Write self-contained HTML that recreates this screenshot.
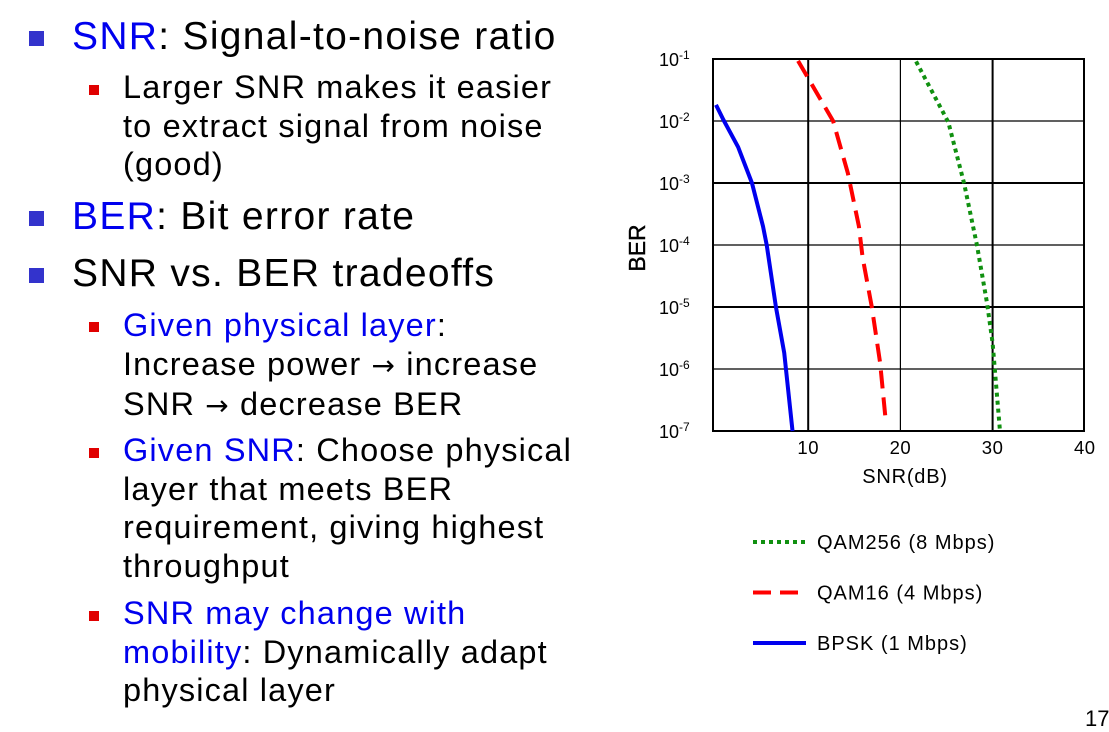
<!DOCTYPE html>
<html><head><meta charset="utf-8"><style>
body{margin:0;width:1109px;height:726px;background:#fff;overflow:hidden;position:relative;font-family:"Liberation Sans",sans-serif}
.l1{position:absolute;left:72px;font-size:39px;color:#000;white-space:nowrap;letter-spacing:1.3px}
.l2{position:absolute;left:123px;font-size:32.5px;color:#000;white-space:nowrap;line-height:38.5px;letter-spacing:1.15px}
.b1{position:absolute;left:29px;width:15px;height:15px;background:#3333cc}
.b2{position:absolute;left:89px;width:10px;height:10px;background:#e00000}
.bl{color:#0000ee}
.ar{font-family:"DejaVu Sans",sans-serif;font-size:28px}
</style></head><body>
<div>
<div class="b1" style="top:31px"></div><div class="l1" style="top:15px"><span class="bl">SNR</span>: Signal-to-noise ratio</div></div>
<div class="b2" style="top:85px"></div>
<div class="l2" style="top:68px">Larger SNR makes it easier<br>to extract signal from noise<br>(good)</div>
<div>
<div class="b1" style="top:211px"></div><div class="l1" style="top:195px"><span class="bl">BER</span>: Bit error rate</div></div>
<div>
<div class="b1" style="top:268px"></div><div class="l1" style="top:252px">SNR vs. BER tradeoffs</div></div>
<div class="b2" style="top:322px"></div>
<div class="l2" style="top:306px"><span class="bl">Given physical layer</span>:<br>Increase power <span class="ar">→</span> increase<br>SNR <span class="ar">→</span> decrease BER</div>
<div class="b2" style="top:448px"></div>
<div class="l2" style="top:431px"><span class="bl">Given SNR</span>: Choose physical<br>layer that meets BER<br>requirement, giving highest<br>throughput</div>
<div class="b2" style="top:611px"></div>
<div class="l2" style="top:594px"><span class="bl">SNR may change with<br>mobility</span>: Dynamically adapt<br>physical layer</div>
<div style="position:absolute;left:1085px;top:706px;font-size:22px">17</div>
<svg id="chart" width="1109" height="726" style="position:absolute;left:0;top:0" font-family="Liberation Sans,sans-serif"></svg>
<script>
const xTicks=[10,20,30,40];
const yExps=[-1,-2,-3,-4,-5,-6,-7];
const bpskSnr=[0,0.8,2.4,3.9,5.1,5.5,6.5,7.4,8.3];
const bpskLogBer=[-1.74,-1.98,-2.42,-3,-3.7,-4,-5,-5.74,-7];
const qam16Snr=[8.9,12.7,14.3,15.5,15.9,16.9,17.8,18.4];
const qam16LogBer=[-1.03,-2,-2.84,-3.7,-4.2,-5,-5.9,-6.82];
const qam256Snr=[21.7,25.2,26.9,28.3,29.4,30,30.8];
const qam256LogBer=[-1.04,-2.02,-3,-4,-4.94,-5.58,-7];
const svg=document.getElementById('chart');
const NS='http://www.w3.org/2000/svg';
const x=v=>716+v*9.22;
const y=e=>59+(-1-e)*62;
function mk(t,a){const e=document.createElementNS(NS,t);for(const k in a)e.setAttribute(k,a[k]);svg.appendChild(e);return e;}
let r=mk('rect',{x:713,y:59,width:371,height:372,fill:'none',stroke:'#000','stroke-width':2});


xTicks.forEach(t=>{
 if(t<40){const g=mk('line',{x1:x(t),x2:x(t),y1:59,y2:431,stroke:'#000','stroke-width':t==20?1.2:2});
 
 }
 const l=mk('text',{x:x(t),y:454,'font-size':18.5,'text-anchor':'middle','letter-spacing':0.5});l.textContent=t;
 
 
});
yExps.forEach(e=>{
 if(e>-7&&e<-1){const g=mk('line',{x1:713,x2:1084,y1:y(e),y2:y(e),stroke:'#000','stroke-width':(e%2?2:1.2)});
 
 }
 const l=mk('text',{x:659,y:y(e)+7,'font-size':18});
 l.innerHTML='10<tspan dy="-7" font-size="12">'+e+'</tspan>';
 
 
});
let t=mk('text',{x:905,y:483,'font-size':20,'text-anchor':'middle','letter-spacing':0.8});t.textContent='SNR(dB)';


t=mk('text',{x:0,y:0,'font-size':23,'text-anchor':'middle','stroke':'#000','stroke-width':0.4,transform:'translate(645,248) rotate(-90)'});t.textContent='BER';


function series(xs,ys,col,dash,name){
 const p=mk('polyline',{points:xs.map((v,i)=>x(v)+','+y(ys[i])).join(' '),fill:'none',stroke:col,'stroke-width':4,'stroke-dasharray':dash,'stroke-linejoin':'round'});
 
 
}
series(bpskSnr,bpskLogBer,'#0000ee','','bpsk-line');
series(qam16Snr,qam16LogBer,'#ff0000','18 9','qam16-line');
series(qam256Snr,qam256LogBer,'#109010','4 4','qam256-line');
const legNames=['QAM256 (8 Mbps)','QAM16 (4 Mbps)','BPSK (1 Mbps)'];
const legCols=['#109010','#ff0000','#0000ee'];
const legDash=['4 4','18 9',''];
legNames.forEach((n,i)=>{
 const yy=542+i*50.5;
 const l=mk('line',{x1:753,x2:806,y1:yy,y2:yy,stroke:legCols[i],'stroke-width':4,'stroke-dasharray':legDash[i]});
 
 
 const tx=mk('text',{x:817,y:yy+7,'font-size':20,'letter-spacing':1});tx.textContent=n;
 
 
});
</script>
</body></html>
